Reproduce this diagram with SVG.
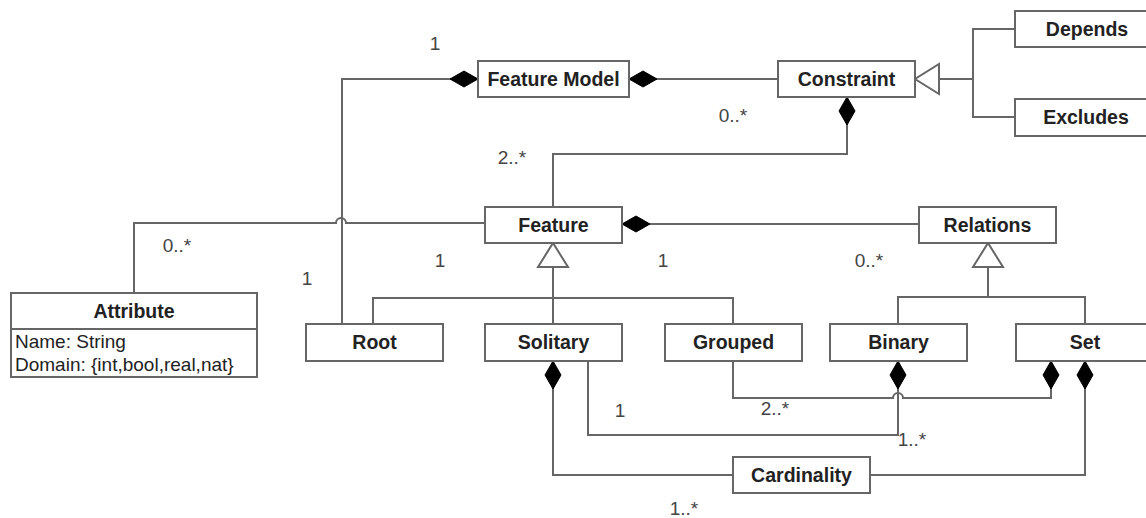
<svg xmlns="http://www.w3.org/2000/svg" width="1146" height="518" viewBox="0 0 1146 518">
<style>
.box{fill:#fff;stroke:#666;stroke-width:2}
.name{font-family:"Liberation Sans",Arial,sans-serif;font-weight:bold;font-size:19.5px;fill:#222;text-anchor:middle}
.attr{font-family:"Liberation Sans",Arial,sans-serif;font-size:19px;fill:#222}
.lbl{font-family:"Liberation Sans",Arial,sans-serif;font-size:19px;fill:#444;text-anchor:middle}
.ln{fill:none;stroke:#666;stroke-width:2}
.comp{marker-end:url(#diamond)}
.gen{marker-end:url(#tri)}
</style>
<defs>
<marker id="diamond" viewBox="0 0 28 18" refX="28" refY="9" markerUnits="userSpaceOnUse" markerWidth="28" markerHeight="18" orient="auto">
<path d="M0,9 L14,1 L28,9 L14,17 Z" fill="#000" stroke="#000" stroke-width="1"/>
</marker>
<marker id="tri" viewBox="-2 -2 28 34" refX="24" refY="15" markerUnits="userSpaceOnUse" markerWidth="28" markerHeight="34" orient="auto">
<path d="M0,0 L24,15 L0,30 Z" fill="#fff" stroke="#666" stroke-width="2"/>
</marker>
</defs>
<rect width="1146" height="518" fill="#fff"/>
<g id="connectors">
<path class="ln comp" d="M342 324 V79 H478"/>
<path class="ln comp" d="M778 79 H629"/>
<path class="ln" d="M1015 29 H973 V117 H1015"/>
<path class="ln gen" d="M973 79 H915"/>
<path class="ln comp" d="M553 207 V154 H847 V97"/>
<path class="ln" d="M134 293 V223 H336 A5 5 0 0 1 346 223 H485"/>
<path class="ln comp" d="M919 224 H622"/>
<path class="ln gen" d="M553 324 V243"/>
<path class="ln" d="M373 324 V298 H733 V324"/>
<path class="ln gen" d="M988 297 V243"/>
<path class="ln" d="M898 324 V297 H1085 V324"/>
<path class="ln comp" d="M733 475 H553 V361"/>
<path class="ln comp" d="M870 475 H1085 V361"/>
<path class="ln comp" d="M588 361 V435 H898 V361"/>
<path class="ln comp" d="M733 361 V398 H893 A5 5 0 0 1 903 398 H1051 V361"/>
</g>
<g id="feature-model"><rect class="box" x="478" y="61" width="151" height="36"/><text class="name" x="553.5" y="86">Feature Model</text></g>
<g id="constraint"><rect class="box" x="778" y="61" width="137" height="36"/><text class="name" x="846.5" y="86">Constraint</text></g>
<g id="depends"><rect class="box" x="1015" y="11" width="145" height="36"/><text class="name" x="1087" y="36">Depends</text></g>
<g id="excludes"><rect class="box" x="1015" y="99" width="145" height="37"/><text class="name" x="1086" y="124">Excludes</text></g>
<g id="feature"><rect class="box" x="485" y="207" width="137" height="36"/><text class="name" x="553.5" y="232">Feature</text></g>
<g id="relations"><rect class="box" x="919" y="207" width="137" height="36"/><text class="name" x="987.5" y="232">Relations</text></g>
<g id="attribute"><rect class="box" x="11" y="293" width="246" height="84"/><line class="ln" x1="11" y1="329" x2="257" y2="329"/><text class="name" x="134" y="318">Attribute</text><text class="attr" x="15" y="348">Name: String</text><text class="attr" x="15" y="371">Domain: {int,bool,real,nat}</text></g>
<g id="root"><rect class="box" x="306" y="324" width="137" height="37"/><text class="name" x="374.5" y="349">Root</text></g>
<g id="solitary"><rect class="box" x="485" y="324" width="137" height="37"/><text class="name" x="553.5" y="349">Solitary</text></g>
<g id="grouped"><rect class="box" x="665" y="324" width="137" height="37"/><text class="name" x="733.5" y="349">Grouped</text></g>
<g id="binary"><rect class="box" x="830" y="324" width="137" height="37"/><text class="name" x="898.5" y="349">Binary</text></g>
<g id="set"><rect class="box" x="1016" y="324" width="140" height="37"/><text class="name" x="1085" y="349">Set</text></g>
<g id="cardinality"><rect class="box" x="733" y="457" width="137" height="36"/><text class="name" x="801.5" y="482">Cardinality</text></g>
<g id="labels">
<text class="lbl" x="435" y="50">1</text>
<text class="lbl" x="733" y="122">0..*</text>
<text class="lbl" x="512" y="164">2..*</text>
<text class="lbl" x="177" y="252">0..*</text>
<text class="lbl" x="440" y="267">1</text>
<text class="lbl" x="663" y="267">1</text>
<text class="lbl" x="307" y="285">1</text>
<text class="lbl" x="869" y="267">0..*</text>
<text class="lbl" x="620" y="417">1</text>
<text class="lbl" x="775" y="415">2..*</text>
<text class="lbl" x="912" y="446">1..*</text>
<text class="lbl" x="684" y="515">1..*</text>
</g>
</svg>
